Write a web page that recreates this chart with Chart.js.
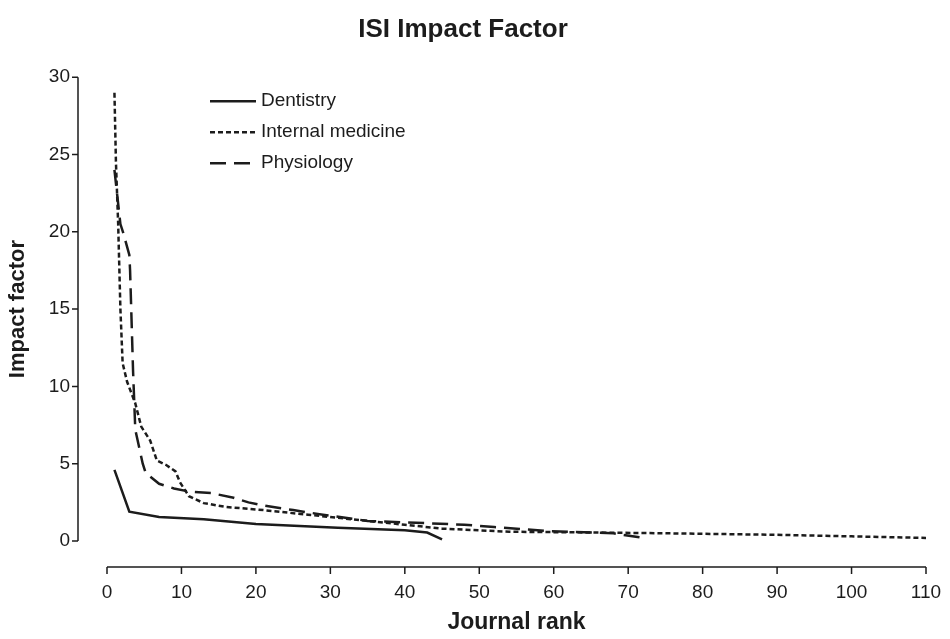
<!DOCTYPE html>
<html>
<head>
<meta charset="utf-8">
<script src="https://cdn.jsdelivr.net/npm/chart.js@4/dist/chart.umd.min.js"></script>
<style>
  body { margin: 0; background: #fff; }
</style>
</head>
<body>
<canvas id="chart" width="950" height="639"></canvas>
<script>
const xTicks = [0, 10, 20, 30, 40, 50, 60, 70, 80, 90, 100, 110];
const yTicks = [0, 5, 10, 15, 20, 25, 30];

const dentRank = [1, 3, 7, 13, 20, 31, 40, 43, 45];
const dentIF = [4.6, 1.9, 1.55, 1.4, 1.1, 0.85, 0.7, 0.55, 0.1];

const medRank = [1, 1.2, 1.5, 1.8, 2.1, 2.7, 3.8, 4.6, 5.8, 6.7, 8, 9.2, 9.8, 11, 13, 16, 21, 27, 31, 40, 45, 54, 65, 75, 90, 100, 110];
const medIF = [29, 24.5, 20.5, 15, 11.5, 10.3, 8.9, 7.4, 6.5, 5.2, 4.9, 4.5, 3.8, 2.9, 2.45, 2.2, 2.0, 1.7, 1.5, 1.05, 0.8, 0.6, 0.55, 0.5, 0.4, 0.3, 0.2];

const physRank = [1, 1.8, 2.2, 3, 3.1, 3.5, 3.8, 4.8, 5.2, 7, 9, 11, 14, 17, 19, 21, 25, 29, 32, 35, 43, 48, 52, 59, 68, 72];
const physIF = [24, 20.5, 19.9, 18.5, 17.5, 11, 7.2, 5.0, 4.4, 3.7, 3.4, 3.2, 3.1, 2.8, 2.5, 2.3, 2.0, 1.7, 1.5, 1.3, 1.15, 1.05, 0.9, 0.65, 0.5, 0.2];

const ink = '#1c1c1c';
const pts = (xs, ys) => xs.map((x, i) => ({ x: x, y: ys[i] }));

// axes are drawn detached from the plot, like the original figure
const detachedAxes = {
    id: 'detachedAxes',
    afterDraw(chart) {
        const c = chart.ctx, a = chart.chartArea;
        const xs = chart.scales.x, ys = chart.scales.y;
        const ax = a.left - 29, ay = a.bottom + 26;
        c.save();
        c.strokeStyle = ink;
        c.lineWidth = 1.5;
        c.beginPath();
        c.moveTo(ax, ys.getPixelForValue(30));
        c.lineTo(ax, ys.getPixelForValue(0));
        yTicks.forEach(v => {
            const p = ys.getPixelForValue(v);
            c.moveTo(ax - 6, p);
            c.lineTo(ax, p);
        });
        c.moveTo(xs.getPixelForValue(0), ay);
        c.lineTo(xs.getPixelForValue(110), ay);
        xTicks.forEach(v => {
            const p = xs.getPixelForValue(v);
            c.moveTo(p, ay);
            c.lineTo(p, ay + 7);
        });
        c.stroke();

        // legend inside the plot
        c.font = '19px "Liberation Sans", Arial, sans-serif';
        c.textBaseline = 'middle';
        c.fillStyle = ink;
        chart.data.datasets.forEach((ds, i) => {
            const y = a.top + 24 + i * 31;
            const x0 = a.left + 103;
            c.beginPath();
            c.setLineDash(ds.borderDash || []);
            c.lineWidth = ds.borderWidth;
            c.moveTo(x0, y);
            c.lineTo(x0 + 46, y);
            c.stroke();
            c.setLineDash([]);
            c.fillText(ds.label, x0 + 51, y);
        });
        c.restore();
    }
};

new Chart(document.getElementById('chart'), {
    type: 'scatter',
    data: {
        datasets: [{
            label: 'Dentistry',
            data: pts(dentRank, dentIF),
            borderColor: ink,
            borderWidth: 2.5,
            borderDash: []
        }, {
            label: 'Internal medicine',
            data: pts(medRank, medIF),
            borderColor: ink,
            borderWidth: 2.5,
            borderDash: [5, 3]
        }, {
            label: 'Physiology',
            data: pts(physRank, physIF),
            borderColor: ink,
            borderWidth: 2.5,
            borderDash: [16, 8]
        }]
    },
    options: {
        responsive: false,
        animation: false,
        showLine: true,
        elements: { point: { radius: 0 }, line: { tension: 0 } },
        layout: { padding: { left: 0, right: 24, top: 0, bottom: 0 } },
        plugins: {
            legend: { display: false },
            tooltip: { enabled: false },
            title: {
                display: true,
                text: 'ISI Impact Factor',
                color: ink,
                font: { family: '"Liberation Sans", Arial', size: 26, weight: 'bold' },
                padding: { top: 14, bottom: 32 }
            }
        },
        scales: {
            x: {
                type: 'linear',
                min: 0,
                max: 110,
                afterBuildTicks: s => { s.ticks = xTicks.map(v => ({ value: v })); },
                afterFit: s => { s.height = 98; s.paddingLeft = 0; s.paddingRight = 0; },
                grid: { display: false, drawTicks: false },
                border: { display: false },
                ticks: {
                    color: ink,
                    padding: 40,
                    maxRotation: 0,
                    font: { family: '"Liberation Sans", Arial', size: 19 }
                },
                title: {
                    display: true,
                    text: 'Journal rank',
                    color: ink,
                    font: { family: '"Liberation Sans", Arial', size: 23, weight: 'bold' },
                    padding: { top: 0, bottom: 3 }
                }
            },
            y: {
                min: 0,
                max: 30,
                afterBuildTicks: s => { s.ticks = yTicks.map(v => ({ value: v })); },
                afterFit: s => { s.width = 107; s.paddingTop = 0; s.paddingBottom = 0; },
                grid: { display: false, drawTicks: false },
                border: { display: false },
                ticks: {
                    color: ink,
                    padding: 37,
                    font: { family: '"Liberation Sans", Arial', size: 19 }
                },
                title: {
                    display: true,
                    text: 'Impact factor',
                    color: ink,
                    font: { family: '"Liberation Sans", Arial', size: 22, weight: 'bold' },
                    padding: { top: 5, bottom: 0 }
                }
            }
        }
    },
    plugins: [detachedAxes]
});
</script>
</body>
</html>
